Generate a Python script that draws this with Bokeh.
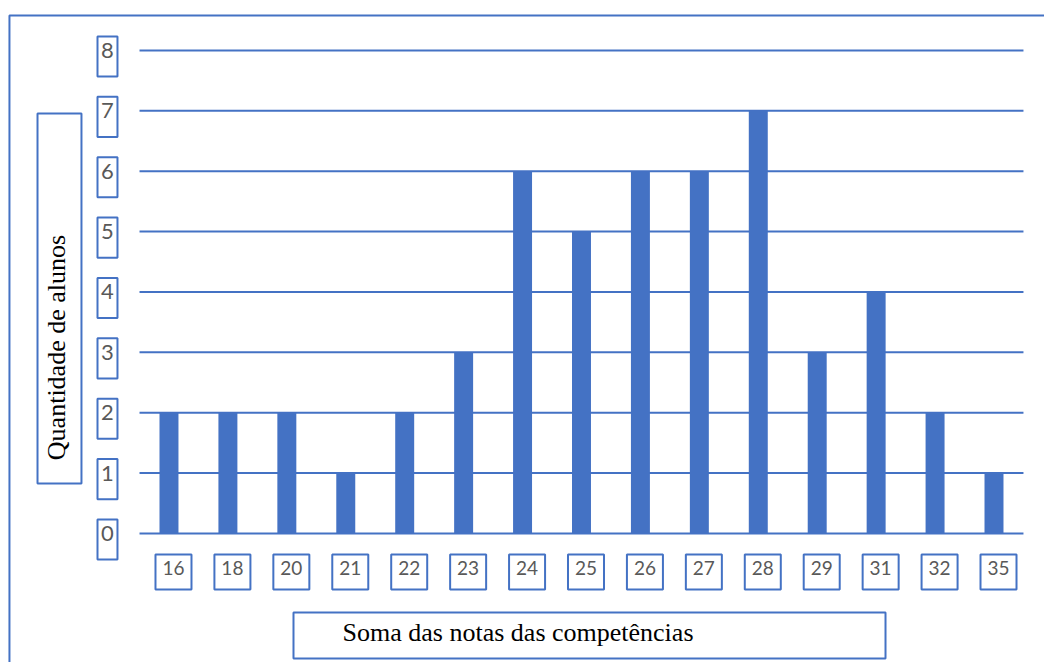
from bokeh.plotting import figure
from bokeh.models import Range1d, Label, BoxAnnotation, ColumnDataSource
from bokeh.embed import file_html
from bokeh.resources import INLINE
import math

# ---- data ----
categories = ["16", "18", "20", "21", "22", "23", "24", "25", "26", "27", "28", "29", "31", "32", "35"]
counts = [2, 2, 2, 1, 2, 3, 6, 5, 6, 6, 7, 3, 4, 2, 1]
y_ticks = [0, 1, 2, 3, 4, 5, 6, 7, 8]
x_title = "Soma das notas das competências"
y_title = "Quantidade de alunos"

BLUE = "#4472C4"
TICK_COLOR = "#595959"
TICK_FONT = "Lato"
TITLE_FONT = "Liberation Serif"

n = len(categories)
positions = list(range(n))

p = figure(
    width=1044, height=662,
    x_range=Range1d(-2.859, 14.857),
    y_range=Range1d(-2.137, 8.828),
    x_axis_location=None, y_axis_location=None,
    toolbar_location=None, output_backend="svg",
    min_border=0,
)
p.outline_line_color = None
p.xgrid.visible = False
p.ygrid.visible = False
p.background_fill_color = "white"
p.border_fill_color = "white"


def box(left, right, top, bottom, fill=True):
    return BoxAnnotation(left=left, right=right, top=top, bottom=bottom,
                         fill_color="white", fill_alpha=1 if fill else 0,
                         line_color=BLUE, line_alpha=1, line_width=2)


# outer frame (left and top edges visible)
p.add_layout(box(-2.707, 40, 8.58, -20, fill=False))

# horizontal grid lines over the category band
grid_src = ColumnDataSource(dict(x0=[-0.5] * len(y_ticks), x1=[n - 0.5] * len(y_ticks),
                                 y=y_ticks))
p.segment(x0="x0", x1="x1", y0="y", y1="y", source=grid_src,
          line_color=BLUE, line_width=2)

src = ColumnDataSource(dict(x=positions, n=counts))
p.vbar(x="x", top="n", bottom=0, width=0.322, source=src,
       fill_color=BLUE, line_color=None)

# y tick labels in boxes
for t in y_ticks:
    p.add_layout(box(-1.213, -0.874, t + 0.232, t - 0.431))
    p.add_layout(Label(x=-1.044, y=t - 0.0, text=str(t), text_align="center",
                       text_baseline="alphabetic", text_font=TICK_FONT,
                       text_font_size="22px", text_color=TICK_COLOR))

# x tick labels in boxes
for i, c in enumerate(categories):
    p.add_layout(box(i - 0.229, i + 0.382, -0.348, -0.928))
    p.add_layout(Label(x=i + 0.076, y=-0.566, text=c, text_align="center",
                       text_baseline="alphabetic", text_font=TICK_FONT,
                       text_font_size="19px", text_color=TICK_COLOR))

# y axis title box
p.add_layout(box(-2.231, -1.485, 6.957, 0.828))
p.add_layout(Label(x=-1.906, y=3.08, text=y_title, angle=math.pi / 2,
                   text_align="center", text_baseline="alphabetic",
                   text_font=TITLE_FONT, text_font_size="26px", text_color="black"))

# x axis title box
p.add_layout(box(2.113, 12.159, -1.308, -2.070))
p.add_layout(Label(x=2.946, y=-1.642, text=x_title, text_align="left",
                   text_baseline="alphabetic", text_font=TITLE_FONT,
                   text_font_size="26px", text_color="black"))

open("out.html", "w").write(file_html(p, INLINE))
